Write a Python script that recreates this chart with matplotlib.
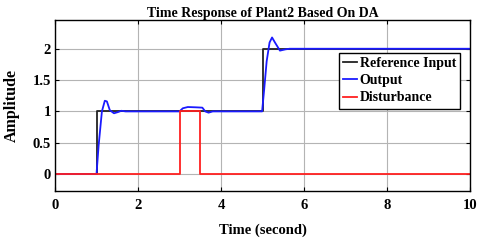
import matplotlib
matplotlib.use("Agg")
import matplotlib.pyplot as plt

# reference step input
ref_t = [0, 1, 1, 5, 5, 10]
ref_v = [0, 0, 1, 1, 2, 2]

# plant output
out_t = [0, 1.0, 1.05, 1.13, 1.2, 1.25, 1.32, 1.42, 1.52, 1.6, 1.7,
         3.0, 3.08, 3.2, 3.4, 3.55, 3.62, 3.7, 3.8,
         4.99, 5.04, 5.1, 5.17, 5.23, 5.3, 5.42, 5.55, 5.65, 10]
out_v = [0, 0, 0.45, 1.0, 1.17, 1.16, 1.02, 0.97, 0.99, 1.01, 1.0,
         1.0, 1.05, 1.07, 1.065, 1.06, 1.0, 0.98, 1.0,
         1.0, 1.35, 1.8, 2.1, 2.18, 2.1, 1.97, 1.99, 2.0, 2.0]

# disturbance pulse
dist_t = [0, 3, 3, 3.5, 3.5, 10]
dist_v = [0, 0, 1, 1, 0, 0]

xticks = [0, 2, 4, 6, 8, 10]
yticks = [0, 0.5, 1, 1.5, 2]

plt.rcParams["font.family"] = ["Liberation Serif", "DejaVu Serif"]
plt.rcParams["font.weight"] = "bold"

fig = plt.figure(figsize=(4.8, 2.49), dpi=100)
ax = fig.add_axes([0.1146, 0.233, 0.8646, 0.687])

ax.plot(ref_t, ref_v, color="#222222", lw=1.3, label="Reference Input")
ax.plot(out_t, out_v, color="#1a1aff", lw=1.3, label="Output")
ax.plot(dist_t, dist_v, color="#ff2020", lw=1.3, label="Disturbance")

ax.set_xlim(0, 10)
ax.set_ylim(-0.27, 2.46)
ax.set_xticks(xticks)
ax.set_yticks(yticks)
ax.set_yticklabels(["0", "0.5", "1", "1.5", "2"])
ax.grid(True, color="#b4b4b4", lw=0.8)
ax.tick_params(direction="in", top=True, right=True, labelsize=10.5, length=3)
ax.tick_params(axis="x", pad=6)
ax.tick_params(axis="y", pad=3)
for s in ax.spines.values():
    s.set_linewidth(1.0)

ax.set_title("Time Response of Plant2 Based On DA", fontsize=10, fontweight="bold", pad=2)
ax.set_xlabel("Time (second)", fontsize=10.5, fontweight="bold", labelpad=8)
ax.set_ylabel("Amplitude", fontsize=11.5, fontweight="bold", labelpad=9)

leg = ax.legend(loc="upper right", bbox_to_anchor=(0.976, 0.807), fontsize=10,
                fancybox=False, framealpha=1, edgecolor="black",
                handlelength=1.0, handletextpad=0.2, borderpad=0.3,
                labelspacing=0.3, borderaxespad=0)
leg.get_frame().set_linewidth(1.0)

fig.savefig("out.png", dpi=100, facecolor="white")
